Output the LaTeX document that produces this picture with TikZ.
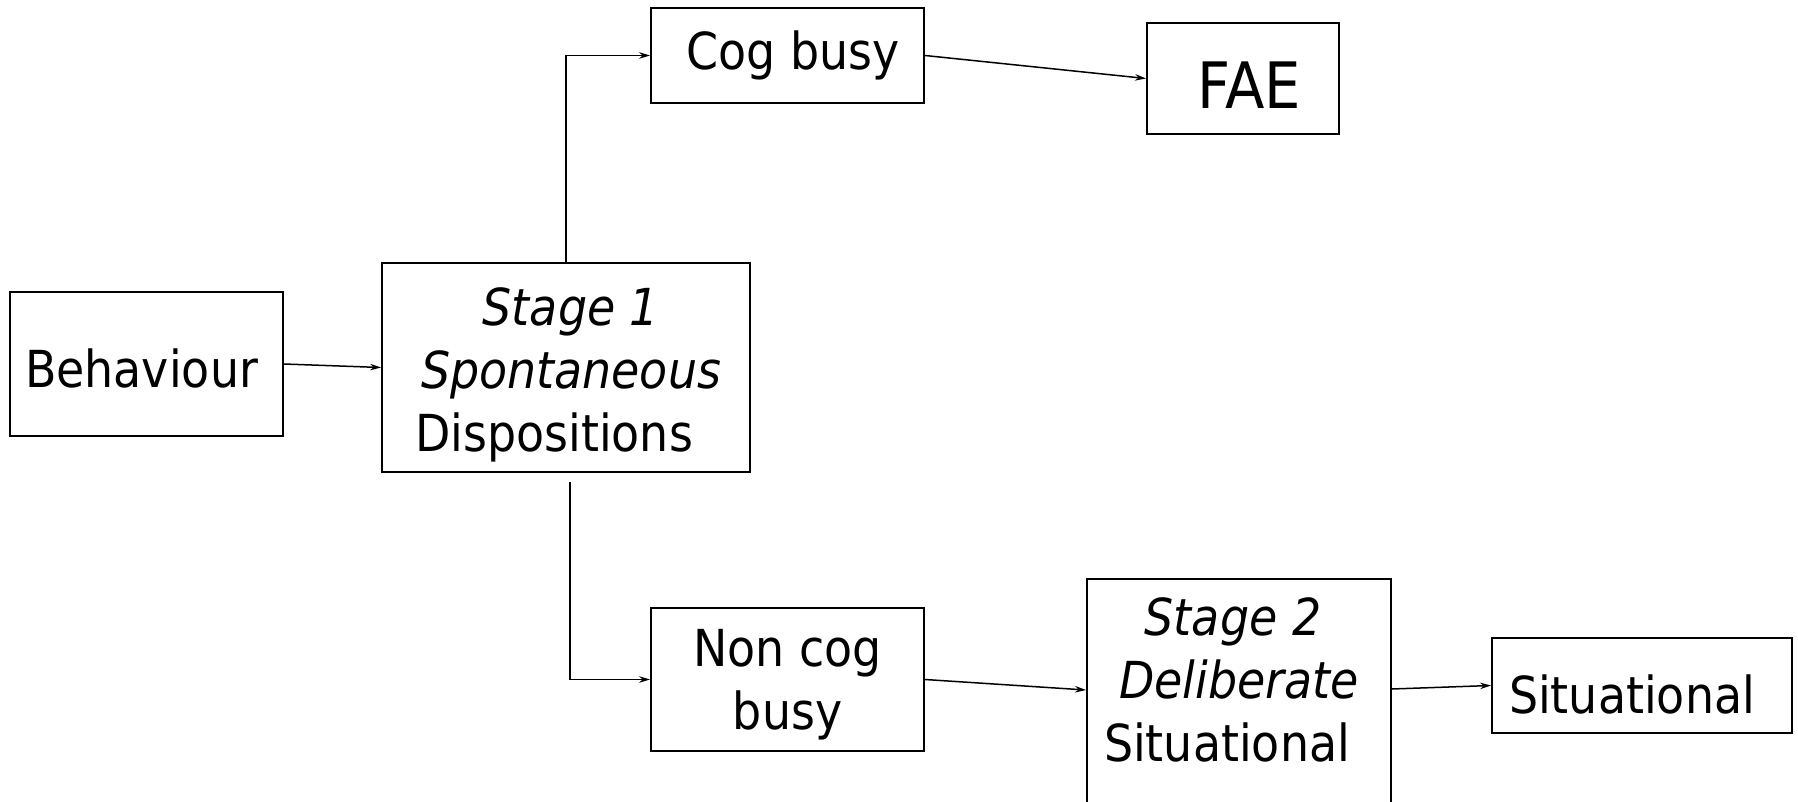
\documentclass[tikz,border=0pt]{standalone}
\usepackage{fontspec}
\setmainfont{DejaVu Sans}[FakeStretch=0.9]
\usetikzlibrary{arrows.meta,calc}
\begin{document}
\begin{tikzpicture}[x=1pt,y=-1pt,
  box/.style={draw, line width=1.9pt, inner xsep=0pt, inner ysep=0pt, align=center,
    font=\fontsize{51}{63}\selectfont},
  conn/.style={-{Stealth[length=11pt,width=6.5pt]}, line width=1.5pt}]
\useasboundingbox (0,0) rectangle (1798,802);
\node[box, minimum width=273pt, minimum height=144pt, text height=47pt, text depth=0pt] (beh) at (146.5,364) {Behaviour\hspace*{10pt}};
\node[box, minimum width=368pt, minimum height=209pt] (s1) at (566,367.5) {\rule{0pt}{53pt}\hspace*{10pt}\itshape Stage 1\\ \hspace*{10pt}\itshape Spontaneous\\ Dispositions\hspace*{24pt}};
\node[box, minimum width=273pt, minimum height=95pt] (cog) at (787.5,55.5) {\hspace*{11pt}Cog busy};
\node[box, minimum width=192pt, minimum height=111pt, text height=61pt, text depth=0pt, font=\fontsize{64}{76}\selectfont] (fae) at (1243,78.5) {\hspace*{12pt}FAE};
\node[box, minimum width=273pt, minimum height=143pt] (ncb) at (787.5,679.5) {\rule{0pt}{47pt}Non cog\\ busy};
\node[box, minimum width=304pt, inner ysep=19pt, anchor=north] (s2) at (1239,578) {\itshape Stage 2\hspace*{12pt}\\ \itshape Deliberate\hspace*{12pt}\\ Situational\hspace*{24pt}\rule[-48pt]{0pt}{1pt}};
\node[box, minimum width=300pt, minimum height=95pt, text height=55pt, text depth=0pt] (sit) at (1642,685.5) {Situational\hspace*{20pt}};
\coordinate (c1) at (570,482);
\coordinate (s2in) at ($(s2.north west)+(0,112)$);
\coordinate (s2out) at ($(s2.north east)+(0,111)$);
\draw[conn] (beh.east) -- (s1.west);
\draw[conn] (s1.north) |- (cog.west);
\draw[conn] (cog.east) -- (fae.west);
\draw[conn] (c1) |- (ncb.west);
\draw[conn] (ncb.east) -- (s2in);
\draw[conn] (s2out) -- (sit.west);
\end{tikzpicture}
\end{document}
